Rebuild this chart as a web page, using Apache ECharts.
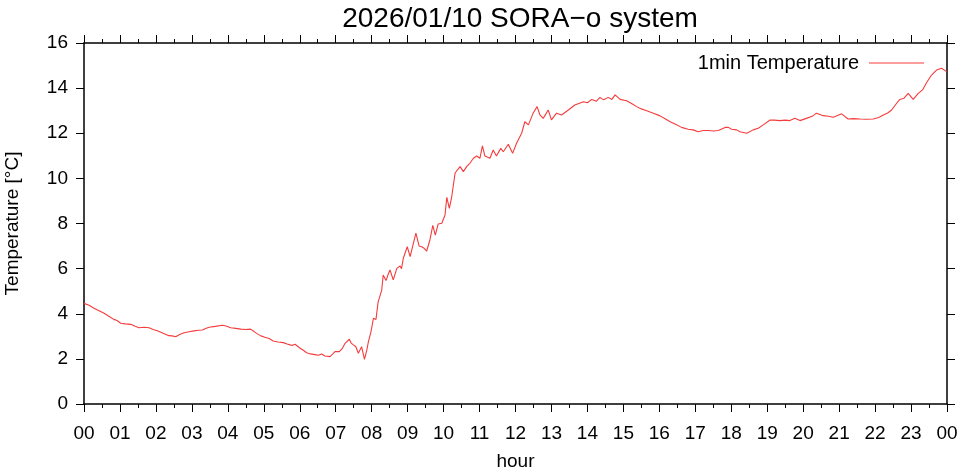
<!DOCTYPE html>
<html>
<head>
<meta charset="utf-8">
<script src="https://cdn.jsdelivr.net/npm/echarts@6/dist/echarts.min.js"></script>
<style>
html,body{margin:0;padding:0;background:#fff;}
#chart{width:961px;height:471px;}
</style>
</head>
<body>
<div id="chart"></div>
<script>
// Hour of day (decimal) at which each reading was taken
const hours = [
0.00,0.14,0.28,0.42,0.56,0.70,0.83,0.92,1.02,1.15,1.30,1.42,1.53,1.67,1.81,1.92,2.04,2.20,2.36,2.45,
2.55,2.66,2.78,2.92,3.06,3.18,3.29,3.40,3.48,3.65,3.85,3.95,4.08,4.22,4.36,4.50,4.63,4.73,4.80,4.92,
5.03,5.15,5.26,5.40,5.54,5.65,5.73,5.80,5.87,6.01,6.10,6.19,6.30,6.42,6.52,6.61,6.70,6.84,6.92,6.98,
7.10,7.18,7.26,7.38,7.43,7.49,7.56,7.63,7.66,7.72,7.80,7.86,7.91,7.98,8.05,8.12,8.18,8.28,8.32,8.40,
8.46,8.51,8.60,8.70,8.79,8.83,8.88,8.99,9.07,9.15,9.23,9.32,9.39,9.46,9.53,9.62,9.70,9.77,9.85,9.95,
10.04,10.09,10.16,10.22,10.32,10.38,10.46,10.55,10.64,10.73,10.83,10.92,11.01,11.08,11.15,11.29,11.38,11.47,11.59,11.66,
11.80,11.92,12.03,12.17,12.26,12.36,12.49,12.60,12.68,12.77,12.91,13.00,13.14,13.28,13.47,13.65,13.89,14.00,14.12,14.25,
14.35,14.45,14.58,14.68,14.77,14.91,15.09,15.25,15.37,15.50,15.65,15.85,16.02,16.15,16.30,16.45,16.62,16.80,16.94,17.08,
17.22,17.36,17.50,17.64,17.83,17.92,18.01,18.15,18.24,18.43,18.61,18.75,18.89,19.08,19.20,19.35,19.50,19.63,19.77,19.91,
20.09,20.25,20.37,20.56,20.70,20.84,21.07,21.25,21.40,21.58,21.75,21.95,22.10,22.23,22.35,22.46,22.60,22.69,22.80,22.92,
23.06,23.20,23.32,23.43,23.57,23.71,23.85,23.99
];
// 1min Temperature readings [°C]
const temps = [
4.46,4.38,4.24,4.13,4.02,3.88,3.75,3.70,3.58,3.55,3.53,3.45,3.38,3.40,3.38,3.30,3.25,3.14,3.03,3.02,
2.98,3.08,3.16,3.20,3.24,3.27,3.28,3.36,3.40,3.44,3.49,3.46,3.38,3.35,3.32,3.30,3.32,3.21,3.13,3.02,
2.96,2.90,2.79,2.75,2.72,2.66,2.62,2.60,2.65,2.47,2.38,2.27,2.22,2.19,2.16,2.22,2.13,2.10,2.22,2.32,
2.32,2.45,2.69,2.87,2.70,2.62,2.54,2.25,2.22,2.54,1.98,2.35,2.76,3.20,3.80,3.75,4.53,5.05,5.72,5.47,
5.75,5.94,5.50,6.01,6.12,6.00,6.46,6.97,6.53,7.05,7.57,7.00,6.97,6.90,6.78,7.27,7.92,7.48,7.98,8.01,
8.38,9.16,8.67,9.12,10.23,10.37,10.52,10.30,10.52,10.67,10.89,10.99,10.89,11.44,10.99,10.89,11.26,10.99,11.33,11.18,
11.51,11.11,11.56,12.00,12.51,12.37,12.89,13.18,12.81,12.66,13.03,12.59,12.89,12.81,13.03,13.25,13.40,13.35,13.50,13.42,
13.59,13.48,13.59,13.50,13.70,13.50,13.44,13.30,13.18,13.08,13.00,12.88,12.77,12.65,12.51,12.40,12.26,12.18,12.15,12.07,
12.12,12.12,12.10,12.12,12.26,12.26,12.18,12.15,12.07,12.00,12.15,12.22,12.37,12.59,12.58,12.56,12.58,12.56,12.66,12.56,
12.66,12.75,12.89,12.78,12.75,12.71,12.86,12.63,12.65,12.63,12.62,12.63,12.70,12.81,12.90,13.03,13.33,13.50,13.55,13.77,
13.50,13.77,13.92,14.24,14.58,14.80,14.88,14.73
];
const titleText = '2026/01/10 SORA\u2212o system';
const seriesName = '1min Temperature';
const xName = 'hour';
const yName = 'Temperature [\u00b0C]';

const FONT = '"Liberation Sans", Arial, Helvetica, sans-serif';
const LINE_COLOR = '#f53c3c';
const data = hours.map((h, i) => [h, temps[i]]);
const pad2 = v => String(Math.round(v) % 24).padStart(2, '0');

const axisLineStyle = { color: '#000', width: 1.5 };
const tickStyle = { color: '#000', width: 1 };
const chart = echarts.init(document.getElementById('chart'), null, { renderer: 'canvas' });
chart.setOption({
  animation: false,
  backgroundColor: '#fff',
  textStyle: { fontFamily: FONT },
  title: {
    text: titleText, left: 515, top: 0, textAlign: 'center',
    textStyle: { fontFamily: FONT, fontSize: 28, fontWeight: 'normal', color: '#000' }
  },
  legend: {
    data: [{ name: seriesName, icon: 'rect' }], right: 32, top: 48, align: 'right',
    itemWidth: 55, itemHeight: 1.2, itemGap: 10,
    itemStyle: { color: LINE_COLOR },
    textStyle: { fontFamily: FONT, fontSize: 20, color: '#000', padding: [0, 5, 0, 0] }
  },
  grid: { left: 84, right: 14, top: 43, bottom: 67, containLabel: false, outerBoundsMode: 'none' },
  xAxis: [
    {
      type: 'value', position: 'bottom', min: 0, max: 24, interval: 1,
      name: xName, nameLocation: 'middle', nameGap: 48,
      nameTextStyle: { fontFamily: FONT, fontSize: 19, color: '#000' },
      axisLine: { show: true, onZero: false, lineStyle: axisLineStyle },
      axisTick: { show: true, inside: false, length: 8, lineStyle: tickStyle },
      minorTick: { show: true, splitNumber: 2, length: 4, lineStyle: tickStyle },
      axisLabel: { margin: 20, fontFamily: FONT, fontSize: 19, color: '#000', formatter: pad2 },
      splitLine: { show: false }
    },
    {
      type: 'value', position: 'top', min: 0, max: 24, interval: 1,
      axisLine: { show: true, onZero: false, lineStyle: axisLineStyle },
      axisTick: { show: true, inside: false, length: 8, lineStyle: tickStyle },
      minorTick: { show: true, splitNumber: 2, length: 4, lineStyle: tickStyle },
      axisLabel: { show: false },
      splitLine: { show: false }
    }
  ],
  yAxis: [
    {
      type: 'value', position: 'left', min: 0, max: 16, interval: 2,
      name: yName, nameLocation: 'middle', nameGap: 62, nameRotate: 90,
      nameTextStyle: { fontFamily: FONT, fontSize: 19, color: '#000' },
      axisLine: { show: true, onZero: false, lineStyle: axisLineStyle },
      axisTick: { show: true, inside: false, length: 8, lineStyle: tickStyle },
      axisLabel: { margin: 16, fontFamily: FONT, fontSize: 19, color: '#000' },
      splitLine: { show: false }
    },
    {
      type: 'value', position: 'right', min: 0, max: 16, interval: 2,
      axisLine: { show: true, onZero: false, lineStyle: axisLineStyle },
      axisTick: { show: true, inside: false, length: 8, lineStyle: tickStyle },
      axisLabel: { show: false },
      splitLine: { show: false }
    }
  ],
  series: [{
    name: seriesName, type: 'line', data: data,
    xAxisIndex: 0, yAxisIndex: 0,
    showSymbol: false, symbol: 'none',
    lineStyle: { color: LINE_COLOR, width: 1.1 },
    itemStyle: { color: LINE_COLOR }
  }]
});
</script>
</body>
</html>
